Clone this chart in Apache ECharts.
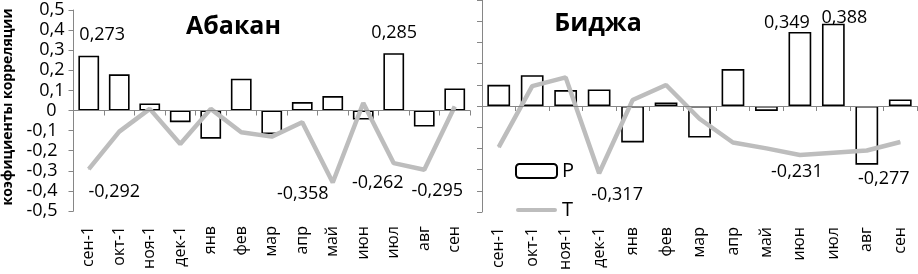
<!DOCTYPE html>
<html>
<head>
<meta charset="utf-8">
<script src="https://cdn.jsdelivr.net/npm/echarts@6/dist/echarts.min.js"></script>
<style>
html,body{margin:0;padding:0;background:#fff;}
#chart{width:918px;height:274px;}
</style>
</head>
<body>
<div id="chart"></div>
<script>
const categories = ['сен-1','окт-1','ноя-1','дек-1','янв','фев','мар','апр','май','июн','июл','авг','сен'];
const abakanP = [0.273, 0.18, 0.035, -0.058, -0.14, 0.158, -0.117, 0.042, 0.072, -0.045, 0.285, -0.08, 0.11];
const abakanT = [-0.292, -0.105, 0.008, -0.167, 0.008, -0.108, -0.13, -0.058, -0.358, 0.037, -0.262, -0.295, 0.02];
const bidzhaP = [0.1, 0.145, 0.075, 0.078, -0.172, 0.017, -0.149, 0.174, -0.023, 0.349, 0.388, -0.277, 0.031];
const bidzhaT = [-0.194, 0.094, 0.135, -0.317, 0.028, 0.099, -0.06, -0.172, -0.2, -0.231, -0.22, -0.21, -0.17];
const titles = ['Абакан', 'Биджа'];
const yAxisName = 'коэфициенты корреляции';
const seriesNames = ['P', 'T'];

const FONT = 'Open Sans';
const GRAY_AXIS = '#868686';
const LINE_GRAY = '#bdbdbd';
const fmt = v => v.toFixed(3).replace('.', ',');

// label placement (style only)
const abakanPLabels = {0: {position: 'top', distance: 12, offset: [13.5, 0]}, 10: {position: 'top', distance: 11, offset: [0.5, 0]}};
const abakanTLabels = {0: {offset: [25.5, 22.6]}, 8: {offset: [-30, 11.4]}, 10: {offset: [-16, 19.6]}, 11: {offset: [13, 21]}};
const bidzhaPLabels = {9: {position: 'top', distance: 0, offset: [-13, 0]}, 10: {position: 'top', distance: 0, offset: [11, 3]}, 11: {position: 'bottom', distance: 5, offset: [17, 0]}};
const bidzhaTLabels = {3: {offset: [18, 21.5]}, 9: {offset: [-3, 16.5]}};

const labelText = {fontFamily: FONT, fontSize: 18, color: '#000'};

function barData(vals, cfg) {
  return vals.map((v, i) => cfg[i] ? {value: v, label: Object.assign({show: true, formatter: p => fmt(p.value)}, labelText, cfg[i])} : v);
}
function lineData(vals, cfg) {
  return vals.map((v, i) => cfg[i] ? {value: v, label: Object.assign({show: true, position: 'inside', formatter: p => fmt(p.value)}, labelText, cfg[i])} : v);
}

const yLabelFormatter = v => {
  const r = Math.round(v * 10) / 10;
  const s = String(r).replace('.', ',');
  if (r < 0) return '{n|' + s + '}';
  if (r === 0) return '{z|' + s + '}';
  return s;
};

function xLineAxis(g) {
  return {type: 'category', gridIndex: g, data: categories, boundaryGap: true,
    axisLine: {onZero: true, onZeroAxisIndex: g, lineStyle: {color: GRAY_AXIS, width: 1}},
    axisTick: {show: true, length: 5, interval: 0, lineStyle: {color: GRAY_AXIS}},
    axisLabel: {show: false}, splitLine: {show: false}, z: 4};
}
function xLabelAxis(g) {
  return {type: 'category', gridIndex: g, data: categories, position: 'bottom',
    axisLine: {show: false, onZero: false}, axisTick: {show: false},
    axisLabel: {interval: 0, rotate: 90, margin: 15, fontFamily: FONT, fontSize: 16, color: '#000'},
    splitLine: {show: false}};
}
function yAxis(g, showLabels) {
  return {type: 'value', gridIndex: g, min: -0.5, max: 0.5, interval: 0.1,
    axisLine: {show: true, lineStyle: {color: GRAY_AXIS, width: 1}},
    axisTick: {show: true, length: 5, lineStyle: {color: GRAY_AXIS}},
    splitLine: {show: false},
    axisLabel: {show: showLabels, margin: 9, fontFamily: FONT, fontSize: 18, color: '#000',
      formatter: yLabelFormatter,
      rich: {n: {fontFamily: FONT, fontSize: 18, padding: [0, 7, 0, 0]}, z: {fontFamily: FONT, fontSize: 18, padding: [0, 8, 0, 0]}}}};
}
function barSeries(x, y, vals, cfg) {
  return {name: seriesNames[0], type: 'bar', xAxisIndex: x, yAxisIndex: y, data: barData(vals, cfg),
    barWidth: '68%', itemStyle: {color: '#ffffff', borderColor: '#000000', borderWidth: 1.6}, z: 2, animation: false};
}
function lineSeries(x, y, vals, cfg) {
  return {name: seriesNames[1], type: 'line', xAxisIndex: x, yAxisIndex: y, data: lineData(vals, cfg),
    symbol: 'circle', symbolSize: 1, showSymbol: true, itemStyle: {color: LINE_GRAY},
    lineStyle: {color: LINE_GRAY, width: 4.5}, z: 3, animation: false};
}

const chart = echarts.init(document.getElementById('chart'), null, {renderer: 'canvas'});
chart.setOption({
  animation: false,
  backgroundColor: '#ffffff',
  grid: [
    {left: 73.5, top: 10, width: 396.5, height: 201},
    {left: 482, top: 0, width: 435, height: 212}
  ],
  xAxis: [xLineAxis(0), xLabelAxis(0), xLineAxis(1), xLabelAxis(1)],
  yAxis: [yAxis(0, true), yAxis(1, false)],
  legend: {
    orient: 'vertical', left: 510, top: 156, itemWidth: 41, itemHeight: 14, itemGap: 19,
    textStyle: {fontFamily: FONT, fontSize: 20, color: '#000'},
    data: [
      {name: seriesNames[0]},
      {name: seriesNames[1], icon: 'path://M2,0 L39,0 A2,2 0 0 1 39,4 L2,4 A2,2 0 0 1 2,0 Z', itemStyle: {color: LINE_GRAY}}
    ]
  },
  graphic: [
    {type: 'text', style: {x: 233.5, y: 27, text: titles[0], font: 'bold 25px "' + FONT + '"', fill: '#000', textAlign: 'center', textVerticalAlign: 'middle'}},
    {type: 'text', style: {x: 598, y: 24, text: titles[1], font: 'bold 25px "' + FONT + '"', fill: '#000', textAlign: 'center', textVerticalAlign: 'middle'}},
    {type: 'text', rotation: Math.PI / 2, x: 8, y: 107, style: {x: 0, y: 0, text: yAxisName, font: 'bold 14px "' + FONT + '"', fill: '#000', textAlign: 'center', textVerticalAlign: 'middle'}}
  ],
  series: [
    barSeries(0, 0, abakanP, abakanPLabels),
    lineSeries(0, 0, abakanT, abakanTLabels),
    barSeries(2, 1, bidzhaP, bidzhaPLabels),
    lineSeries(2, 1, bidzhaT, bidzhaTLabels)
  ]
});
</script>
</body>
</html>
